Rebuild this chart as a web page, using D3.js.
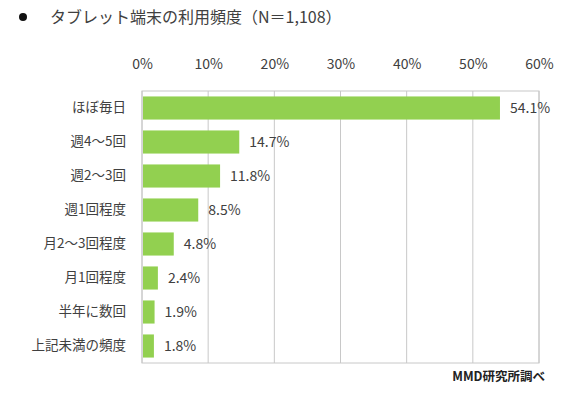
<!DOCTYPE html>
<html>
<head>
<meta charset="utf-8">
<script src="https://cdn.jsdelivr.net/npm/d3@7"></script>
<style>
  body { margin: 0; background: #fff; }
  svg { font-family: "Noto Sans CJK JP", "Noto Sans", sans-serif; }
</style>
</head>
<body>
<div id="chart"></div>
<script>
// data
var categories = ["ほぼ毎日", "週4～5回", "週2～3回", "週1回程度", "月2～3回程度", "月1回程度", "半年に数回", "上記未満の頻度"];
var values = [54.1, 14.7, 11.8, 8.5, 4.8, 2.4, 1.9, 1.8];
var tickValues = [0, 10, 20, 30, 40, 50, 60];

var width = 576, height = 398;
var plotLeft = 142, plotRight = 539, plotTop = 91, plotBottom = 363;

var svg = d3.select("#chart").append("svg")
    .attr("width", width)
    .attr("height", height);

var x = d3.scaleLinear().domain([0, 60]).range([plotLeft, plotRight]);
var y = d3.scaleBand().domain(categories).range([plotTop, plotBottom]).paddingInner(0.32).paddingOuter(0.16);

// title
svg.append("circle").attr("cx", 23).attr("cy", 17).attr("r", 4).attr("fill", "#111");
svg.append("text")
    .attr("x", 50).attr("y", 23)
    .attr("font-size", 16)
    .attr("fill", "#404040")
    .text("タブレット端末の利用頻度（N＝1,108）");

// grid lines
svg.append("g").selectAll("line")
    .data(tickValues)
    .enter().append("line")
    .attr("x1", function(d){ return x(d); })
    .attr("x2", function(d){ return x(d); })
    .attr("y1", plotTop).attr("y2", plotBottom)
    .attr("stroke", "#c8c8c8")
    .attr("stroke-width", 1);

// plot border
svg.append("rect")
    .attr("x", plotLeft).attr("y", plotTop)
    .attr("width", plotRight - plotLeft).attr("height", plotBottom - plotTop)
    .attr("fill", "none")
    .attr("stroke", "#c8c8c8");

// top axis
var axis = d3.axisTop(x).tickValues(tickValues).tickSize(0).tickFormat(function(d){ return d + "%"; });
var ax = svg.append("g").attr("transform", "translate(0," + (plotTop - 19) + ")").call(axis);
ax.select(".domain").remove();
ax.selectAll("text")
    .attr("font-size", 14)
    .attr("fill", "#404040")
    .attr("font-family", "\"Noto Sans CJK JP\", sans-serif")
    .attr("dy", 0);

// category labels
var yAxis = d3.axisLeft(y).tickSize(0).tickPadding(16);
var ay = svg.append("g").attr("transform", "translate(" + plotLeft + ",0)").call(yAxis);
ay.select(".domain").remove();
ay.selectAll("text")
    .attr("font-size", 13.5)
    .attr("fill", "#404040")
    .attr("font-family", "\"Noto Sans CJK JP\", sans-serif");

// bars
svg.append("g").selectAll("rect")
    .data(values)
    .enter().append("rect")
    .attr("x", x(0) + 1)
    .attr("y", function(d, i){ return y(categories[i]); })
    .attr("width", function(d){ return x(d) - x(0) - 1; })
    .attr("height", y.bandwidth())
    .attr("fill", "#92d050");

// value labels
svg.append("g").selectAll("text")
    .data(values)
    .enter().append("text")
    .attr("x", function(d){ return x(d) + 10; })
    .attr("y", function(d, i){ return y(categories[i]) + y.bandwidth() / 2; })
    .attr("dy", "0.35em")
    .attr("font-size", 14)
    .attr("fill", "#404040")
    .text(function(d){ return d.toFixed(1) + "%"; });

// source
svg.append("text")
    .attr("x", 545).attr("y", 381)
    .attr("text-anchor", "end")
    .attr("font-size", 12.5)
    .attr("font-weight", "bold")
    .attr("fill", "#222")
    .text("MMD研究所調べ");
</script>
</body>
</html>
